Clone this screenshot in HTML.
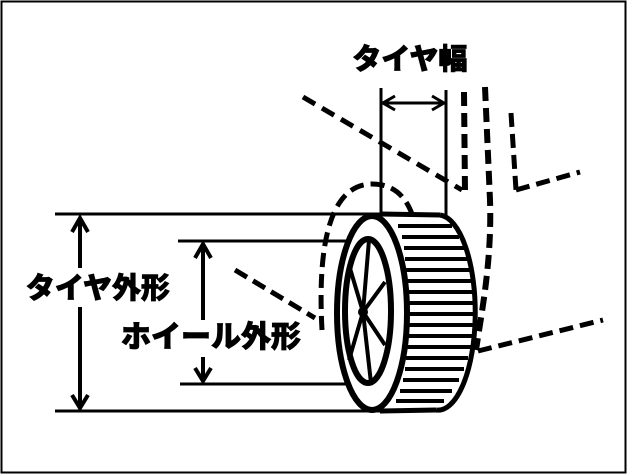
<!DOCTYPE html>
<html><head><meta charset="utf-8"><style>
html,body{margin:0;padding:0;background:#fff}
svg{display:block}
text{font-family:"Liberation Sans","Noto Sans CJK JP",sans-serif;font-weight:900;fill:#000;stroke:#000;stroke-width:0.8}
</style></head><body>
<svg width="629" height="475" viewBox="0 0 629 475" xmlns="http://www.w3.org/2000/svg">
<rect x="1.5" y="1.5" width="624" height="471" fill="#fff" stroke="#000" stroke-width="2"/>
<g stroke="#000" fill="none" stroke-linecap="butt">
<line x1="55" y1="214" x2="380" y2="214" stroke-width="3"/>
<line x1="55" y1="411" x2="385" y2="411" stroke-width="3"/>
<line x1="178" y1="241" x2="365" y2="241" stroke-width="3"/>
<line x1="180" y1="384" x2="365" y2="384" stroke-width="3"/>
<line x1="80" y1="218" x2="80" y2="268" stroke-width="4"/>
<line x1="80" y1="307" x2="80" y2="408" stroke-width="4"/>
<polyline points="72,232 80,218 88,232" stroke-width="4"/>
<polyline points="72,395 80,408 88,395" stroke-width="4"/>
<line x1="203" y1="244" x2="203" y2="320" stroke-width="4"/>
<line x1="203" y1="357" x2="203" y2="381" stroke-width="4"/>
<polyline points="195,258 203,244 211,258" stroke-width="4"/>
<polyline points="195,368 203,381 211,368" stroke-width="4"/>
<line x1="235" y1="270" x2="315" y2="318" stroke-width="5" stroke-dasharray="14,7"/>
<line x1="381" y1="88" x2="381" y2="214" stroke-width="3"/>
<line x1="446" y1="90" x2="446" y2="216" stroke-width="3"/>
<line x1="383" y1="103" x2="444" y2="103" stroke-width="3"/>
<polyline points="395,96 383,103 395,110" stroke-width="3"/>
<polyline points="432,96 444,103 432,110" stroke-width="3"/>
<line x1="303" y1="97" x2="462" y2="190" stroke-width="5" stroke-dasharray="14,8"/>
<line x1="464" y1="92" x2="465" y2="192" stroke-width="6" stroke-dasharray="14,7"/>
<path d="M485,87 L490,200 C492,260 482,310 476,350" stroke-width="6" stroke-dasharray="14,7"/>
<line x1="511" y1="113" x2="516" y2="190" stroke-width="5" stroke-dasharray="14,7"/>
<line x1="516" y1="190" x2="580" y2="172" stroke-width="5" stroke-dasharray="14,7"/>
<line x1="478" y1="351" x2="603" y2="320" stroke-width="5" stroke-dasharray="14,7"/>
<path d="M322,330 C316,220 340,184 372,184 C395,184 406,198 412,214" stroke-width="5" stroke-dasharray="14,7"/>
<path d="M440,215 A37,97 0 0 1 436,410" stroke-width="5"/>
<line x1="380" y1="214" x2="440" y2="215" stroke-width="5"/>
<line x1="380" y1="411" x2="436" y2="410" stroke-width="5"/>
<g stroke-width="4">
<line x1="398" y1="226" x2="452" y2="226"/>
<line x1="402" y1="237" x2="459" y2="237"/>
<line x1="404" y1="248" x2="464" y2="248"/>
<line x1="405" y1="259" x2="468" y2="259"/>
<line x1="406" y1="270" x2="471" y2="270"/>
<line x1="407" y1="281" x2="473" y2="281"/>
<line x1="407" y1="292" x2="475" y2="292"/>
<line x1="408" y1="303" x2="475" y2="303"/>
<line x1="408" y1="314" x2="475" y2="314"/>
<line x1="408" y1="325" x2="475" y2="325"/>
<line x1="407" y1="336" x2="473" y2="336"/>
<line x1="407" y1="347" x2="471" y2="347"/>
<line x1="406" y1="358" x2="468" y2="358"/>
<line x1="405" y1="369" x2="464" y2="369"/>
<line x1="403" y1="380" x2="459" y2="380"/>
<line x1="400" y1="391" x2="452" y2="391"/>
<line x1="396" y1="401" x2="444" y2="401"/>
</g>
<ellipse cx="372" cy="313" rx="35" ry="97" fill="#fff" stroke-width="6"/>
<ellipse cx="368" cy="311" rx="23" ry="72" stroke-width="6"/>
<g stroke-width="4">
<line x1="363" y1="312" x2="369" y2="240"/>
<line x1="363" y1="312" x2="371" y2="383"/>
<line x1="363" y1="312" x2="385" y2="282"/>
<line x1="363" y1="312" x2="385" y2="345"/>
<line x1="363" y1="312" x2="349" y2="265"/>
<line x1="363" y1="312" x2="349" y2="360"/>
</g>
<circle cx="363" cy="312" r="5" fill="#000" stroke="none"/>
</g>
<text x="410" y="69" font-size="29" text-anchor="middle">タイヤ幅</text>
<text x="98" y="298" font-size="29" text-anchor="middle">タイヤ外形</text>
<text x="211" y="347" font-size="30" text-anchor="middle">ホイール外形</text>
</svg>
</body></html>
